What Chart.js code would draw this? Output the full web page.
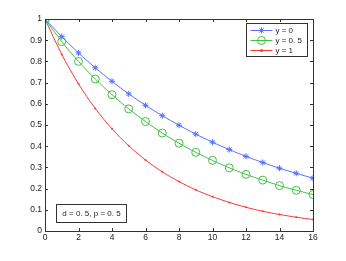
<!DOCTYPE html>
<html>
<head>
<meta charset="utf-8">
<script src="https://cdn.jsdelivr.net/npm/chart.js@4"></script>
<style>
  html, body { margin: 0; padding: 0; background: #fff; }
  #wrap { width: 346px; height: 261px; }
</style>
</head>
<body>
<div id="wrap"><canvas id="c" width="346" height="261"></canvas></div>
<script>
// data
var xVals = [0, 1, 2, 3, 4, 5, 6, 7, 8, 9, 10, 11, 12, 13, 14, 15, 16];
var y0 = [1, 0.917, 0.840, 0.770, 0.706, 0.647, 0.593, 0.544, 0.499, 0.457, 0.419, 0.384, 0.352, 0.323, 0.296, 0.272, 0.249];
var y05 = [1, 0.893, 0.800, 0.717, 0.643, 0.576, 0.516, 0.462, 0.414, 0.371, 0.333, 0.298, 0.267, 0.240, 0.214, 0.192, 0.172];
var y1 = [1, 0.833, 0.694, 0.578, 0.482, 0.402, 0.335, 0.279, 0.233, 0.194, 0.162, 0.135, 0.112, 0.093, 0.078, 0.065, 0.054];
var seriesLabels = ['y = 0', 'y = 0. 5', 'y = 1'];
var noteText = 'd = 0. 5, p = 0. 5';
var FONT = '"Liberation Sans", Arial, sans-serif';

function pts(ys) { return xVals.map(function (x, i) { return { x: x, y: ys[i] }; }); }

// MATLAB-style box with inward ticks, legend and note
var boxPlugin = {
  id: 'box',
  afterDraw: function (chart) {
    var ctx = chart.ctx, a = chart.chartArea, sx = chart.scales.x, sy = chart.scales.y;
    ctx.save();
    ctx.strokeStyle = '#333';
    ctx.lineWidth = 1;
    ctx.strokeRect(Math.round(a.left) + 0.5, Math.round(a.top) + 0.5, Math.round(a.right - a.left), Math.round(a.bottom - a.top));
    ctx.beginPath();
    sx.ticks.forEach(function (t) {
      var px = Math.round(sx.getPixelForValue(t.value)) + 0.5;
      ctx.moveTo(px, a.bottom); ctx.lineTo(px, a.bottom - 3);
      ctx.moveTo(px, a.top); ctx.lineTo(px, a.top + 3);
    });
    sy.ticks.forEach(function (t) {
      var py = Math.round(sy.getPixelForValue(t.value)) + 0.5;
      ctx.moveTo(a.left, py); ctx.lineTo(a.left + 3, py);
      ctx.moveTo(a.right, py); ctx.lineTo(a.right - 3, py);
    });
    ctx.stroke();

    // legend box
    var lx = 246.5, ly = 23.5, lw = 61, lh = 33;
    ctx.fillStyle = '#fff';
    ctx.fillRect(lx, ly, lw, lh);
    ctx.strokeRect(lx, ly, lw, lh);
    ctx.font = '8px ' + FONT;
    ctx.textBaseline = 'middle';
    chart.data.datasets.forEach(function (ds, i) {
      var yy = ly + 7 + i * 10;
      ctx.strokeStyle = ds.borderColor;
      ctx.fillStyle = ds.borderColor;
      ctx.beginPath(); ctx.moveTo(lx + 4, yy); ctx.lineTo(lx + 26, yy); ctx.stroke();
      ctx.beginPath();
      if (ds.pointStyle === 'star') {
        var r = ds.pointRadius;
        for (var k = 0; k < 4; k++) {
          var ang = k * Math.PI / 4;
          ctx.moveTo(lx + 15 - r * Math.cos(ang), yy - r * Math.sin(ang));
          ctx.lineTo(lx + 15 + r * Math.cos(ang), yy + r * Math.sin(ang));
        }
        ctx.stroke();
      } else if (ds.pointBorderWidth > 0) {
        ctx.arc(lx + 15, yy, ds.pointRadius, 0, Math.PI * 2); ctx.stroke();
      } else {
        ctx.arc(lx + 15, yy, 1.5, 0, Math.PI * 2); ctx.fill();
      }
      ctx.fillStyle = '#222';
      ctx.fillText(ds.label, lx + 29, yy + 0.5);
    });

    // note box
    ctx.strokeStyle = '#333';
    var nx = 56.5, ny = 204.5, nw = 70, nh = 18;
    ctx.fillStyle = '#fff';
    ctx.fillRect(nx, ny, nw, nh);
    ctx.strokeRect(nx, ny, nw, nh);
    ctx.fillStyle = '#222';
    ctx.textAlign = 'center';
    ctx.fillText(noteText, nx + nw / 2, ny + nh / 2 + 0.5);
    ctx.restore();
  }
};

new Chart(document.getElementById('c').getContext('2d'), {
  type: 'line',
  data: {
    datasets: [
      { label: seriesLabels[0], data: pts(y0), borderColor: '#5570ff', backgroundColor: '#5570ff',
        pointBackgroundColor: '#5570ff', pointBorderColor: '#5570ff', pointStyle: 'star', pointRadius: 3, pointBorderWidth: 1, borderWidth: 1, tension: 0.3 },
      { label: seriesLabels[1], data: pts(y05), borderColor: '#40c040', backgroundColor: 'rgba(0,0,0,0)',
        pointBackgroundColor: 'rgba(0,0,0,0)', pointBorderColor: '#40c040', pointStyle: 'circle', pointRadius: 4, pointBorderWidth: 1, borderWidth: 1, tension: 0.3 },
      { label: seriesLabels[2], data: pts(y1), borderColor: '#ff3535', backgroundColor: '#ff3535',
        pointBackgroundColor: '#ff3535', pointBorderColor: '#ff3535', pointStyle: 'circle', pointRadius: 1, pointBorderWidth: 0, borderWidth: 1, tension: 0.3 }
    ]
  },
  options: {
    responsive: false,
    animation: false,
    layout: { padding: { left: 0, right: 33, top: 19, bottom: 0 } },
    plugins: { legend: { display: false }, tooltip: { enabled: false } },
    scales: {
      x: {
        type: 'linear', min: 0, max: 16,
        ticks: { stepSize: 2, color: '#222', font: { family: FONT, size: 8.5 }, padding: 2, maxRotation: 0 },
        grid: { display: false, drawTicks: false },
        border: { display: false },
        afterFit: function (s) { s.height = 30; }
      },
      y: {
        min: 0, max: 1,
        ticks: { stepSize: 0.1, color: '#222', font: { family: FONT, size: 8.5 }, padding: 3,
          callback: function (v) { return Math.round(v * 10) / 10; } },
        grid: { display: false, drawTicks: false },
        border: { display: false },
        afterFit: function (s) { s.width = 45; }
      }
    }
  },
  plugins: [boxPlugin]
});
</script>
</body>
</html>
